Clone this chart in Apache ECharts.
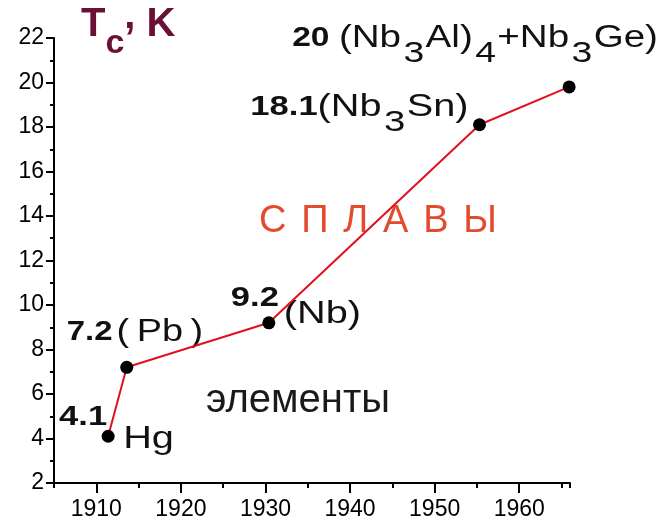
<!DOCTYPE html>
<html><head><meta charset="utf-8">
<script src="https://cdn.jsdelivr.net/npm/echarts@6/dist/echarts.min.js"></script>
<style>html,body{margin:0;padding:0;background:#fff}#c{width:663px;height:524px}</style>
</head><body><div id="c"></div>
<script>
// ---- data ----
const years = [1911.4, 1913.6, 1930.4, 1955.3, 1965.9];
const tcValues = [4.1, 7.2, 9.2, 18.1, 19.8];
const xMajorTicks = [1910, 1920, 1930, 1940, 1950, 1960];
const regionLabels = ['СПЛАВЫ', 'элементы'];
// point annotations: index of point, rich text
const pointNotes = [
  {i: 0, text: '{b|4.1}'},
  {i: 0, text: '{r|Hg}'},
  {i: 1, text: '{b|7.2} {r|(\u2009Pb\u2009)}'},
  {i: 2, text: '{b|9.2}'},
  {i: 2, text: '{r|(Nb)}'},
  {i: 3, text: '{bn|18.1}{rn|(Nb}{s|3}{rn|Sn)}'},
  {i: 4, text: '{bn|20 }{rn|(Nb}{s|3}{rn|Al)}{s|4}{rn|+Nb}{s|3}{rn|Ge)}'}
];
// ---- styling / placement (offsets relative to the data point in px) ----
const notePlace = [
  {dx: -1, dy: -36, align: 'right', sx: 1.28},
  {dx: 15, dy: -14, align: 'left', sx: 1.28},
  {dx: -60, dy: -52, align: 'left', sx: 1.22},
  {dx: 10, dy: -41, align: 'right', sx: 1.28},
  {dx: 15, dy: -25, align: 'left', sx: 1.28},
  {dx: -11, dy: -27, align: 'right', sx: 1.28},
  {dx: -277, dy: -58, align: 'left', sx: 1.245}
];
const FONT = '"Liberation Sans", Arial, sans-serif';
const INK = '#111';
const rich = {
  b: {fontFamily: FONT, fontWeight: 'bold', fontSize: 27, lineHeight: 34, fill: INK},
  r: {fontFamily: FONT, fontSize: 31, lineHeight: 34, fill: INK},
  bn: {fontFamily: FONT, fontWeight: 'bold', fontSize: 27, lineHeight: 34, padding: [0, 0, 15, 0], fill: INK},
  rn: {fontFamily: FONT, fontSize: 31, lineHeight: 34, padding: [0, 0, 15, 0], fill: INK},
  s: {fontFamily: FONT, fontSize: 30, lineHeight: 34, padding: [15, 1, 0, 2], fill: INK}
};

const chart = echarts.init(document.getElementById('c'), null, {renderer: 'canvas'});
chart.setOption({
  animation: false,
  backgroundColor: '#fff',
  grid: {left: 54, right: 93, top: 38, bottom: 41},
  xAxis: [{
    type: 'value', min: 1905, max: 1966, interval: 5,
    axisLine: {show: true, onZero: false, lineStyle: {color: '#000', width: 2}},
    axisTick: {show: true, length: 5, lineStyle: {color: '#000', width: 2}},
    axisLabel: {fontFamily: FONT, fontSize: 23, color: '#000', margin: 15,
      formatter: v => (v % 10 === 0 ? String(v) : '')},
    splitLine: {show: false}
  }, {
    type: 'value', min: 1905, max: 1966, interval: 5, gridIndex: 0, position: 'bottom',
    axisLine: {show: false, onZero: false},
    axisTick: {show: true, length: 10, lineStyle: {color: '#000', width: 2}, customValues: xMajorTicks},
    axisLabel: {show: false},
    splitLine: {show: false}
  }],
  yAxis: {
    type: 'value', min: 2, max: 22, interval: 2,
    axisLine: {show: true, onZero: false, lineStyle: {color: '#000', width: 2}},
    axisTick: {show: true, length: 8, lineStyle: {color: '#000', width: 2}},
    minorTick: {show: true, splitNumber: 2, length: 4, lineStyle: {color: '#000', width: 2}},
    axisLabel: {fontFamily: FONT, fontSize: 23, color: '#000', margin: 10},
    splitLine: {show: false}
  },
  series: [{
    type: 'line',
    xAxisIndex: 0,
    data: years.map((y, k) => [y, tcValues[k]]),
    symbol: 'circle', symbolSize: 13,
    itemStyle: {color: '#000'},
    lineStyle: {color: '#e3101c', width: 2},
    z: 5
  }]
});

const graphics = [];
pointNotes.forEach((n, k) => {
  const p = chart.convertToPixel({gridIndex: 0}, [years[n.i], tcValues[n.i]]);
  const pl = notePlace[k];
  graphics.push({
    type: 'text', x: p[0] + pl.dx, y: p[1] + pl.dy, z: 1, scaleX: pl.sx,
    style: {text: n.text, rich: rich, align: pl.align, verticalAlign: 'top'}
  });
});
// axis title  T_c, K
const TC = '#6a0f36';
graphics.push({
  type: 'text', x: 81, y: 7, z: 1,
  style: {
    text: '{t|T}{c|c}{m|,}{t| K}',
    rich: {
      t: {fontFamily: FONT, fontWeight: 'bold', fontSize: 40, lineHeight: 40, padding: [15, 0, 19, 0], fill: TC},
      c: {fontFamily: FONT, fontWeight: 'bold', fontSize: 34, lineHeight: 40, padding: [34, 0, 0, 0], fill: TC},
      m: {fontFamily: FONT, fontWeight: 'bold', fontSize: 40, lineHeight: 40, padding: [7, 0, 27, 0], fill: TC}
    },
    align: 'left', verticalAlign: 'top'
  }
});
// region labels
graphics.push({
  type: 'text', x: 378, y: 222, z: 1,
  style: {
    text: regionLabels[0].split('').map(ch => '{a|' + ch + '}').join(''),
    rich: {a: {fontFamily: FONT, fontSize: 38, lineHeight: 40, padding: [0, 7.4, 0, 7.4], fill: '#e44a2e'}},
    align: 'center', verticalAlign: 'middle'
  }
});
graphics.push({
  type: 'text', x: 298, y: 401, z: 1,
  style: {text: regionLabels[1], fontFamily: FONT, fontSize: 40, fill: '#1a1a1a', align: 'center', verticalAlign: 'middle'}
});
chart.setOption({graphic: graphics});
</script>
</body></html>
